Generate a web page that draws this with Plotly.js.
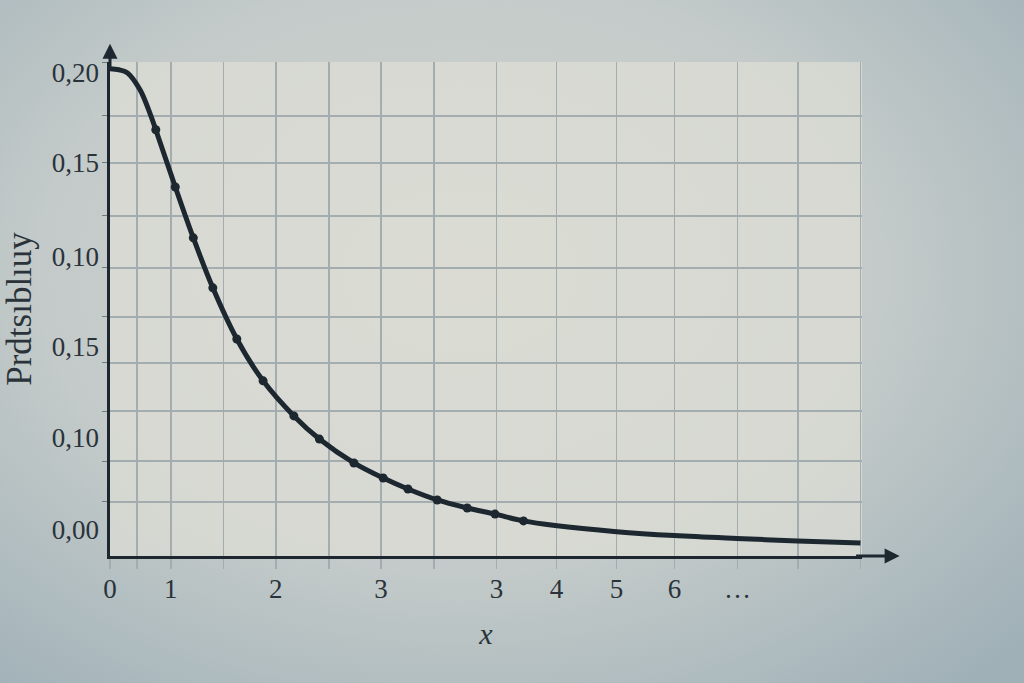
<!DOCTYPE html>
<html>
<head>
<meta charset="utf-8">
<script src="https://cdn.plot.ly/plotly-3.0.1.min.js"></script>
<style>
	html, body {
		margin: 0;
		padding: 0;
		width: 1024px;
		height: 683px;
		overflow: hidden;
		background: radial-gradient(ellipse 75% 80% at 45% 40%, #d3d5cf 0%, #c3cac9 55%, #9fb0b7 100%);
	}
	#chart { width: 1024px; height: 683px; }
</style>
</head>
<body>
<div id="chart"></div>
<script>
// curve
const curveX = [0.00, 0.12, 0.23, 0.40, 0.53, 0.61, 0.87, 1.11, 1.37, 1.69, 2.04, 2.45, 2.79, 3.25, 3.64, 3.97,
	4.36, 4.76, 5.13, 5.51, 5.93, 6.75, 7.52, 8.35, 9.16, 10.00];
const curveY = [0.2000, 0.1996, 0.1984, 0.1914, 0.1819, 0.1750, 0.1515, 0.1306, 0.1101, 0.0891, 0.0719, 0.0575,
	0.0480, 0.0382, 0.0320, 0.0275, 0.0230, 0.0197, 0.0172, 0.0144, 0.0125, 0.0100, 0.0084, 0.0072,
	0.0062, 0.0053];

// dotted points sitting on the curve
const pointX = [0.61, 0.87, 1.11, 1.37, 1.69, 2.04, 2.45, 2.79, 3.25, 3.64, 3.97, 4.36, 4.76, 5.13, 5.51];
const pointY = [0.1750, 0.1515, 0.1306, 0.1101, 0.0891, 0.0719, 0.0575, 0.0480, 0.0382, 0.0320, 0.0275,
	0.0230, 0.0197, 0.0172, 0.0144];

// x grid positions and the labels printed under some of them
const xGrid = [0, 0.36, 0.81, 1.51, 2.21, 2.92, 3.61, 4.32, 5.15, 5.95, 6.75, 7.52, 8.36, 9.17, 10.0];
const xLabels = ['0', '', '1', '', '2', '', '3', '', '3', '4', '5', '6', '\u2026', '', ''];

// y grid positions
const yGrid = [0.0222, 0.0390, 0.0595, 0.0793, 0.0982, 0.1183, 0.1396, 0.1614, 0.1807, 0.2025];

// y labels (as printed) and where they sit
const yLabelVals = [0.0107, 0.0485, 0.0858, 0.1228, 0.1614, 0.1984];
const yLabels = ['0,00', '0,10', '0,15', '0,10', '0,15', '0,20'];

const ink = '#1c2730';
const gridColor = '#a3acae';
const serif = '"Liberation Serif", "DejaVu Serif", serif';

const traces = [
	{
		x: curveX,
		y: curveY,
		mode: 'lines',
		type: 'scatter',
		line: {color: ink, width: 5, shape: 'spline', smoothing: 1},
		hoverinfo: 'skip'
	},
	{
		x: pointX,
		y: pointY,
		mode: 'markers',
		type: 'scatter',
		marker: {color: ink, size: 9},
		hoverinfo: 'skip'
	}
];

const layout = {
	width: 1024,
	height: 683,
	margin: {l: 110, r: 162, t: 62, b: 127, pad: 0},
	paper_bgcolor: 'rgba(0,0,0,0)',
	plot_bgcolor: 'rgba(222,222,214,0.72)',
	showlegend: false,
	font: {family: serif, color: '#2a333a'},
	xaxis: {
		range: [0, 10.02],
		tickmode: 'array',
		tickvals: xGrid,
		ticktext: xLabels,
		showgrid: true,
		gridcolor: gridColor,
		gridwidth: 1.5,
		zeroline: false,
		showline: true,
		linecolor: ink,
		linewidth: 3,
		ticks: 'outside',
		ticklen: 10,
		tickcolor: gridColor,
		tickwidth: 1.5,
		ticklabelstandoff: -3,
		tickfont: {family: serif, size: 27, color: '#2a333a'},
		title: {text: '<i>x</i>', font: {family: serif, size: 30, color: '#2a333a'}, standoff: 20}
	},
	yaxis: {
		range: [0, 0.2028],
		tickmode: 'array',
		tickvals: yGrid,
		showticklabels: false,
		showgrid: true,
		gridcolor: gridColor,
		gridwidth: 1.5,
		zeroline: false,
		showline: true,
		linecolor: ink,
		linewidth: 3,
		ticks: 'outside',
		ticklen: 5,
		tickcolor: '#6f7a80'
	},
	yaxis2: {
		overlaying: 'y',
		side: 'left',
		range: [0, 0.2028],
		tickmode: 'array',
		tickvals: yLabelVals,
		ticktext: yLabels,
		showgrid: false,
		zeroline: false,
		showline: false,
		ticks: '',
		ticklabelstandoff: 10,
		tickfont: {family: serif, size: 27, color: '#2a333a'},
		title: {text: 'Prdtsıblıuy', font: {family: serif, size: 35, color: '#2a333a'}, standoff: 12}
	},
	annotations: [
		{
			// arrowhead on the x axis
			xref: 'paper', yref: 'paper', x: 1.05, y: 0,
			ax: -45, ay: 0, text: '', showarrow: true,
			arrowhead: 2, arrowsize: 1, arrowwidth: 3, arrowcolor: ink
		},
		{
			// arrowhead on the y axis
			xref: 'paper', yref: 'paper', x: 0, y: 1.037,
			ax: 0, ay: 25, text: '', showarrow: true,
			arrowhead: 2, arrowsize: 1, arrowwidth: 3, arrowcolor: ink
		}
	]
};

// invisible trace on the label axis so it is drawn
traces.push({x: [0], y: [0], yaxis: 'y2', mode: 'markers', marker: {opacity: 0}, hoverinfo: 'skip'});

Plotly.newPlot('chart', traces, layout, {staticPlot: true});
</script>
</body>
</html>
